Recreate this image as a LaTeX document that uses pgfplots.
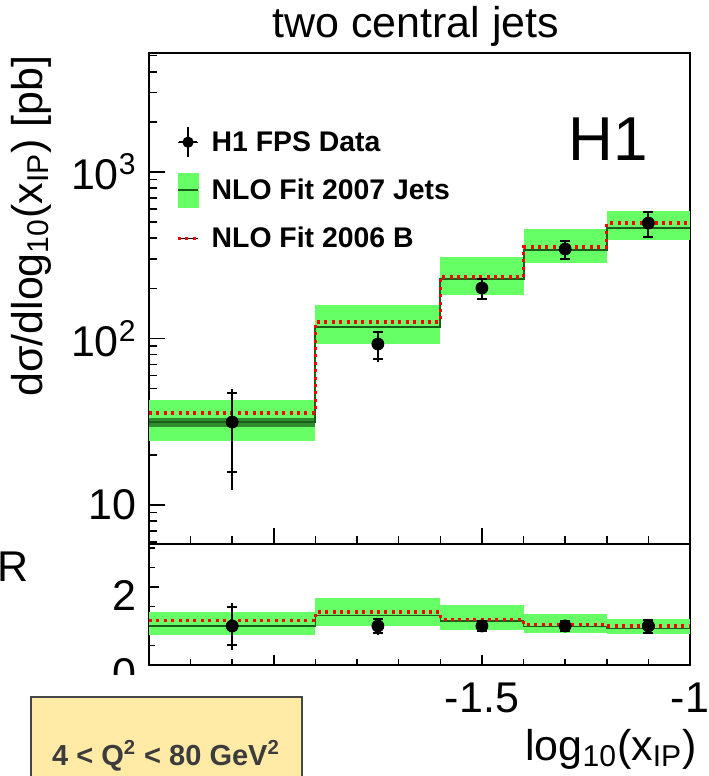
\documentclass[border=0pt]{standalone}
\usepackage{fontspec}
\setmainfont{Liberation Sans}
\usepackage{pgfplots}
\pgfplotsset{compat=1.18}
\definecolor{bandgreen}{RGB}{102,255,102}
\definecolor{darkband}{RGB}{46,139,46}
\definecolor{nlogreen}{RGB}{25,95,25}
\definecolor{boxfill}{RGB}{255,234,166}
\definecolor{boxdraw}{RGB}{70,70,70}
\definecolor{boxtext}{RGB}{60,60,60}
\newcommand{\bigf}{\fontsize{21.5}{24}\selectfont}
\newcommand{\legf}{\fontsize{14.2}{16}\selectfont\bfseries}
\begin{document}
\begin{tikzpicture}
\useasboundingbox (0,0) rectangle (354pt,-388pt);
\pgfplotsset{
  h1axis/.style={
    scale only axis, width=270.5pt, xmin=-2.3, xmax=-1.0,
    axis line style={line width=1.1pt},
    tick align=inside, xtick pos=left, ytick pos=left,
    xtick={-2,-1.5,-1},
    minor xtick={-2.2,-2.1,-1.9,-1.8,-1.7,-1.6,-1.4,-1.3,-1.2,-1.1},
    tick style={black, line width=0.8pt},
    tick label style={font=\bigf},
    xticklabel style={anchor=north, inner sep=0pt, yshift=-9pt},
    yticklabel style={anchor=east, inner sep=0pt, xshift=-6pt},
  }
}
% ---------------- top panel ----------------
\begin{axis}[h1axis, at={(74.5pt,-26.5pt)}, anchor=north west, height=245.5pt,
  ymode=log, ymin=5.83, ymax=5190,
  ytick={10,100,1000}, yticklabels={10,10\textsuperscript{2},10\textsuperscript{3}},
  minor ytick={6,7,8,9,20,30,40,50,60,70,80,90,200,300,400,500,600,700,800,900,2000,3000,4000,5000},
  xticklabels={},
  major tick length=8pt, minor tick length=4pt,
  legend style={at={(axis description cs:0.05,0.868)}, anchor=north west,
    draw=none, fill=none, inner sep=0pt, row sep=0pt, column sep=6pt,
    font=\legf, nodes={inner sep=0pt, text height=16.8pt, text depth=7.2pt}},
  legend cell align=left]
% bands NLO Fit 2007 Jets
\addplot[fill=bandgreen, draw=none, forget plot] coordinates {(-2.3,24.2) (-1.9,24.2) (-1.9,42.8) (-2.3,42.8)};
\addplot[fill=bandgreen, draw=none, forget plot] coordinates {(-1.9,92.7) (-1.6,92.7) (-1.6,158.9) (-1.9,158.9)};
\addplot[fill=bandgreen, draw=none, forget plot] coordinates {(-1.6,182.5) (-1.4,182.5) (-1.4,308.6) (-1.6,308.6)};
\addplot[fill=bandgreen, draw=none, forget plot] coordinates {(-1.4,284) (-1.2,284) (-1.2,454.8) (-1.4,454.8)};
\addplot[fill=bandgreen, draw=none, forget plot] coordinates {(-1.2,390.6) (-1.0,390.6) (-1.0,583) (-1.2,583)};
\addplot[fill=darkband, draw=none, forget plot] coordinates {(-2.3,29.4) (-1.9,29.4) (-1.9,33.3) (-2.3,33.3)};
% central NLO 2007
\addplot[const plot, nlogreen, line width=1pt, forget plot] coordinates {(-2.3,31.5) (-1.9,117.3) (-1.6,227.8) (-1.4,340) (-1.2,461) (-1.0,461)};
% NLO 2006 B
\addplot[const plot, red, line width=1.6pt, dash pattern=on 1.5pt off 2.2pt, forget plot] coordinates {(-2.3,35.7) (-1.9,125.7) (-1.6,234.1) (-1.4,354.4) (-1.2,494) (-1.0,494)};
% data total errors
\addplot[only marks, mark=none, forget plot, error bars/.cd, y dir=both, y explicit, error mark=none,
  error bar style={line width=1pt, black}] coordinates {
  (-2.1,31.5) += (0,18.3) -= (0,19.2)
  (-1.75,92.7) += (0,18.3) -= (0,20.4)
  (-1.5,201.1) += (0,30) -= (0,31)
  (-1.3,344.7) += (0,44) -= (0,48)
  (-1.1,494) += (0,86) -= (0,92)};
% data stat errors + points
\addplot[only marks, mark=*, mark size=3pt, black, forget plot, error bars/.cd, y dir=both, y explicit,
  error mark=-, error bar style={line width=1pt, black},
  error mark options={rotate=90, line width=1pt, mark size=2.5pt, black}] coordinates {
  (-2.1,31.5) += (0,15.6) -= (0,15.7)
  (-1.75,92.7) += (0,16.7) -= (0,17.3)
  (-1.5,201.1) += (0,26.7) -= (0,28.4)
  (-1.3,344.7) += (0,40.3) -= (0,44.7)
  (-1.1,494) += (0,81) -= (0,87)};
% legend
\addlegendimage{legend image code/.code={
  \path (-5pt,0pt) -- (5pt,0pt);
  \draw[black, line width=1pt] (0pt,-7.5pt) -- (0pt,7.5pt);
  \draw[black, line width=1pt] (-4.5pt,0pt) -- (4.5pt,0pt);
  \fill[black] (0pt,0pt) circle (2.6pt);}}
\addlegendentry{H1 FPS Data}
\addlegendimage{legend image code/.code={
  \fill[bandgreen] (-5pt,-8.5pt) rectangle (5pt,8.5pt);
  \draw[nlogreen, line width=0.9pt] (-5pt,0pt) -- (5pt,0pt);}}
\addlegendentry{NLO Fit 2007 Jets}
\addlegendimage{legend image code/.code={
  \path (-5pt,0pt) -- (5pt,0pt);
  \draw[red, line width=1.6pt, dash pattern=on 1.5pt off 2.2pt] (-5pt,0pt) -- (5pt,0pt);}}
\addlegendentry{NLO Fit 2006 B}
\end{axis}
% ---------------- ratio panel ----------------
\begin{axis}[h1axis, at={(74.5pt,-272pt)}, anchor=north west, height=60.5pt,
  ymin=0, ymax=3.1, ytick={0,2}, yticklabels={0,2},
  minor ytick={0.5,1,1.5,2.5,3},
  xticklabels={,-1.5,-1},
  yticklabel style={yshift=-4.5pt},
  major tick length=5pt, minor tick length=3pt]
\addplot[fill=bandgreen, draw=none] coordinates {(-2.3,0.768) (-1.9,0.768) (-1.9,1.359) (-2.3,1.359)};
\addplot[fill=bandgreen, draw=none] coordinates {(-1.9,1.0) (-1.6,1.0) (-1.6,1.714) (-1.9,1.714)};
\addplot[fill=bandgreen, draw=none] coordinates {(-1.6,0.907) (-1.4,0.907) (-1.4,1.535) (-1.6,1.535)};
\addplot[fill=bandgreen, draw=none] coordinates {(-1.4,0.824) (-1.2,0.824) (-1.2,1.319) (-1.4,1.319)};
\addplot[fill=bandgreen, draw=none] coordinates {(-1.2,0.791) (-1.0,0.791) (-1.0,1.18) (-1.2,1.18)};
\addplot[const plot, nlogreen, line width=0.8pt] coordinates {(-2.3,1.0) (-1.9,1.265) (-1.6,1.133) (-1.4,0.986) (-1.2,0.933) (-1.0,0.933)};
\addplot[const plot, red, line width=1.6pt, dash pattern=on 1.5pt off 2.2pt] coordinates {(-2.3,1.133) (-1.9,1.356) (-1.6,1.164) (-1.4,1.028) (-1.2,1.0) (-1.0,1.0)};
\addplot[only marks, mark=none, error bars/.cd, y dir=both, y explicit, error mark=none,
  error bar style={line width=1pt, black}] coordinates {
  (-2.1,1) += (0,0.58) -= (0,0.61)
  (-1.75,1) += (0,0.197) -= (0,0.22)
  (-1.5,1) += (0,0.149) -= (0,0.154)
  (-1.3,1) += (0,0.128) -= (0,0.139)
  (-1.1,1) += (0,0.174) -= (0,0.186)};
\addplot[only marks, mark=*, mark size=3pt, black, error bars/.cd, y dir=both, y explicit,
  error mark=-, error bar style={line width=1pt, black},
  error mark options={rotate=90, line width=1pt, mark size=2.5pt, black}] coordinates {
  (-2.1,1) += (0,0.495) -= (0,0.498)
  (-1.75,1) += (0,0.18) -= (0,0.187)
  (-1.5,1) += (0,0.133) -= (0,0.141)
  (-1.3,1) += (0,0.117) -= (0,0.13)
  (-1.1,1) += (0,0.164) -= (0,0.176)};
\end{axis}
% clip the lower part of the "0" label as in the original
\fill[white] (48pt,-337.5pt) rectangle (72.5pt,-347.5pt);
% texts
\node[anchor=base west, inner sep=0pt, font=\bigf] at (136pt,-18.5pt) {two central jets};
\node[anchor=base east, rotate=90, inner sep=0pt, font=\bigf] at (21pt,-27.5pt) {dσ/dlog\textsubscript{10}(x\textsubscript{IP}) [pb]};
\node[anchor=center, inner sep=0pt, font=\bigf] at (6.5pt,-283.5pt) {R};
\node[anchor=base east, inner sep=0pt, font=\bigf] at (348.5pt,-380pt) {log\textsubscript{10}(x\textsubscript{IP})};
\node[anchor=base west, inner sep=0pt, font=\fontsize{31}{34}\selectfont] at (284pt,-80pt) {H1};
\draw[boxdraw, fill=boxfill, line width=0.8pt] (15.5pt,-348.5pt) rectangle (151pt,-392pt);
\node[anchor=base, inner sep=0pt, text=boxtext, font=\fontsize{14.5}{16}\selectfont\bfseries] at (83pt,-382.5pt) {4 < Q\textsuperscript{2} < 80 GeV\textsuperscript{2}};
\end{tikzpicture}
\end{document}
